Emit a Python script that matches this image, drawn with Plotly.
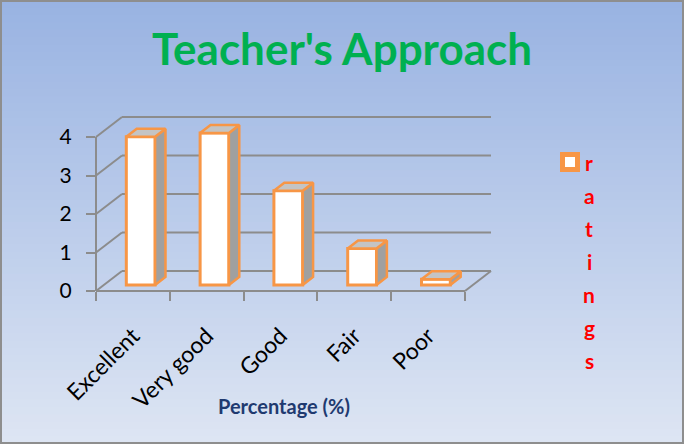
import plotly.graph_objects as go

categories = ["Excellent", "Very good", "Good", "Fair", "Poor"]
ratings = [3.85, 3.95, 2.45, 0.95, 0.15]
y_ticks = [0, 1, 2, 3, 4]
series_name = "ratings"
chart_title = "Teacher's Approach"
x_title = "Percentage (%)"

# page / plot area geometry (px)
W, H = 684, 444
ML, MR, MT, MB = 96, 184, 105, 153
PW, PH = W - ML - MR, H - MT - MB
PX_X = 73.8   # px per category
PX_Y = 38.5   # px per unit
X0, X1 = -0.5, len(categories) - 0.5
XMAX = X0 + PW / PX_X
YMAX = PH / PX_Y

# fake 3d depth of the walls and bars
DX = 26 / PX_X
DY = 20 / PX_Y
F = 0.3     # where the bars stand inside the depth
D = 0.4     # depth of a bar
BW = 0.39   # bar width

ORANGE = "#F79646"
GRID = "#8C8C8C"
FONT = "Lato"


def dom(x, y):
    return (x - X0) / (XMAX - X0), y / YMAX


def pap(px, py):
    return (px - ML) / PW, (H - MB - py) / PH


def seg(xa, ya, xb, yb):
    a = dom(xa, ya)
    b = dom(xb, yb)
    return dict(type="line", xref="x domain", yref="y domain",
                x0=a[0], y0=a[1], x1=b[0], y1=b[1],
                line=dict(color=GRID, width=2), layer="below")


shapes = []

# background gradient
top_c, bot_c = (153, 179, 226), (221, 229, 243)
n = 60
for k in range(n):
    t = k / (n - 1)
    c = tuple(round(top_c[j] + (bot_c[j] - top_c[j]) * t) for j in range(3))
    xa, ya = pap(0, H * k / n)
    xb, yb = pap(W, H * (k + 1) / n + 1)
    shapes.append(dict(type="rect", xref="paper", yref="paper", x0=xa, x1=xb, y0=ya, y1=yb,
                       fillcolor="rgb(%d,%d,%d)" % c, line=dict(width=0), layer="below"))

# walls
for k in y_ticks:
    shapes.append(seg(X0 + DX, k + DY, X1 + DX, k + DY))
    shapes.append(seg(X0, k, X0 + DX, k + DY))
shapes.append(seg(X0, 0, X0, max(y_ticks)))
shapes.append(seg(X0, 0, X1, 0))
shapes.append(seg(X1, 0, X1 + DX, DY))

# outer border
a = pap(1, 1)
b = pap(W - 1, H - 1)
shapes.append(dict(type="rect", xref="paper", yref="paper", x0=a[0], y0=b[1], x1=b[0], y1=a[1],
                   line=dict(color="#8E8E8E", width=2), layer="above"))

# legend key
a = pap(560, 152)
b = pap(580, 172)
shapes.append(dict(type="rect", xref="paper", yref="paper", x0=a[0], y0=b[1], x1=b[0], y1=a[1],
                   fillcolor=ORANGE, line=dict(width=0)))
a = pap(565, 157)
b = pap(575, 167)
shapes.append(dict(type="rect", xref="paper", yref="paper", x0=a[0], y0=b[1], x1=b[0], y1=a[1],
                   fillcolor="white", line=dict(width=0)))

centers = [i + F * DX for i in range(len(categories))]
base = F * DY

fig = go.Figure()
fig.add_trace(go.Bar(
    x=centers, y=ratings, base=base, width=BW, name=series_name,
    marker=dict(color="white", line=dict(color=ORANGE, width=3)),
    showlegend=False, hoverinfo="skip"))

side_x, side_y, top_x, top_y = [], [], [], []
for c, v in zip(centers, ratings):
    xl, xr = c - BW / 2, c + BW / 2
    side_x += [xr, xr + D * DX, xr + D * DX, xr, xr, None]
    side_y += [base, base + D * DY, base + v + D * DY, base + v, base, None]
    top_x += [xl, xl + D * DX, xr + D * DX, xr, xl, None]
    top_y += [base + v, base + v + D * DY, base + v + D * DY, base + v, base + v, None]

fig.add_trace(go.Scatter(x=side_x, y=side_y, mode="lines", fill="toself", fillcolor="#A0A0A0",
                         line=dict(color=ORANGE, width=2.5), showlegend=False, hoverinfo="skip"))
fig.add_trace(go.Scatter(x=top_x, y=top_y, mode="lines", fill="toself", fillcolor="#C4C4C4",
                         line=dict(color=ORANGE, width=2.5), showlegend=False, hoverinfo="skip"))

annotations = []
a = pap(284, 406)
annotations.append(dict(text=x_title, xref="paper", yref="paper", x=a[0], y=a[1],
                        xanchor="center", yanchor="middle", showarrow=False,
                        font=dict(family=FONT, size=20, color="#1F3A70", weight="bold")))
for j, ch in enumerate(series_name):
    a = pap(589, 162 + 33 * j)
    annotations.append(dict(text=ch, xref="paper", yref="paper", x=a[0], y=a[1],
                            xanchor="center", yanchor="middle", showarrow=False,
                            font=dict(family=FONT, size=21, color="#FF0000", weight="bold")))

fig.update_layout(
    width=W, height=H,
    margin=dict(l=ML, r=MR, t=MT, b=MB, autoexpand=False),
    paper_bgcolor="#C0D0EC",
    plot_bgcolor="rgba(0,0,0,0)",
    showlegend=False,
    title=dict(text=chart_title, x=0.5, xref="container", xanchor="center",
               y=1 - 50 / H, yanchor="middle",
               font=dict(family=FONT, size=44, color="#00B050", weight="bold")),
    xaxis=dict(range=[X0, XMAX], tickvals=list(range(len(categories))), ticktext=categories,
               tickangle=-45, ticks="", showgrid=False, zeroline=False, showline=False,
               ticklabelstandoff=26, tickfont=dict(family=FONT, size=23, color="black"),
               minor=dict(tickmode="array", tickvals=[X0 + i for i in range(len(categories) + 1)],
                          ticks="outside", ticklen=9, tickwidth=2, tickcolor=GRID, showgrid=False),
               automargin=False, fixedrange=True),
    yaxis=dict(range=[0, YMAX], tickvals=y_ticks, ticks="outside", ticklen=9, tickwidth=2,
               tickcolor=GRID, showgrid=False, zeroline=False, showline=False,
               ticklabelstandoff=10, tickfont=dict(family=FONT, size=21, color="black"),
               automargin=False, fixedrange=True),
    shapes=shapes,
    annotations=annotations,
)

fig.write_html("out.html", config={"displayModeBar": False},
               post_script="document.body.style.margin = '0';")
